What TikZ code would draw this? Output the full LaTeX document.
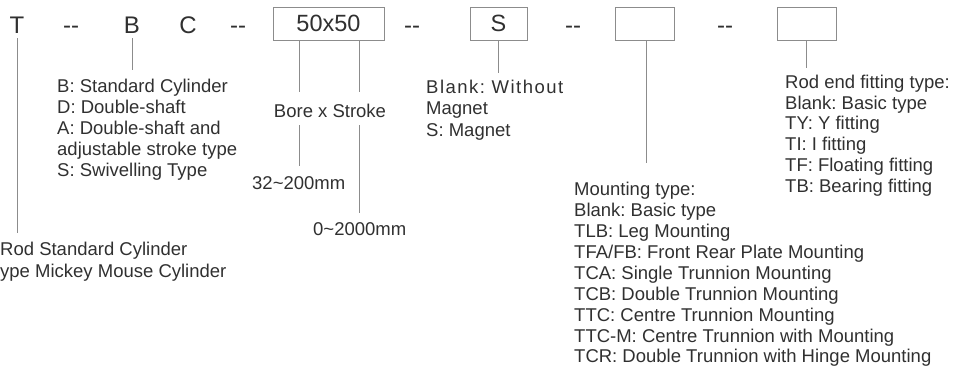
\documentclass[tikz,border=0pt]{standalone}
\usepackage{fontspec}
\setmainfont{Liberation Sans}
\definecolor{ink}{HTML}{303030}
\definecolor{wire}{HTML}{8C8C8C}
\newcommand{\firststrut}{\rule{0pt}{15pt}}
\newcommand{\dd}{-\kern0pt-}
\frenchspacing
\begin{document}
\begin{tikzpicture}[x=1pt,y=-1pt,
  big/.style={font=\fontsize{24}{27}\selectfont, text=ink, inner sep=0pt, anchor=base},
  small/.style={font=\fontsize{18.5}{21}\selectfont, text=ink, inner sep=0pt},
  list/.style={small, anchor=north west, align=left},
  codebox/.style={draw=wire, line width=0.9pt, minimum height=33pt, inner sep=0pt,
    font=\fontsize{23.5}{26}\selectfont, text=ink},
  conn/.style={draw=wire, line width=0.9pt}]
\useasboundingbox (0,0) rectangle (955,367);

% top code row
\node[big] (T) at (17,33) {T};
\node[big] (d1) at (71,33) {\dd};
\node[big] (B) at (132,33) {B};
\node[big] (C) at (188,33) {C};
\node[big] (d2) at (238,33) {\dd};
\node[codebox, minimum width=111pt] (bs) at (328.5,23.5) {50x50};
\node[big] (d3) at (412,33) {\dd};
\node[codebox, minimum width=57pt] (mag) at (498.5,23.5) {S};
\node[big] (d4) at (573,33) {\dd};
\node[codebox, minimum width=59pt] (mnt) at (645,24) {};
\node[big] (d5) at (725,33) {\dd};
\node[codebox, minimum width=59pt] (rod) at (806.5,24) {};

% descriptions
\node[list] (blist) at (57,77) {\firststrut B: Standard Cylinder\\D: Double-shaft\\A: Double-shaft and\\adjustable stroke type\\S: Swivelling Type};
\node[small, anchor=base] (bore) at (330,117) {Bore x Stroke};
\node[small, anchor=base west] (brange) at (252,189) {32\textasciitilde200mm};
\node[small, anchor=base west] (srange) at (313,235) {0\textasciitilde2000mm};
\node[list, font=\fontsize{18.5}{21.5}\selectfont] (maglist) at (426,78) {\firststrut{\addfontfeature{LetterSpace=8}Blank: Without}\\Magnet\\S: Magnet};
\node[list, font=\fontsize{18.5}{20.9}\selectfont] (mntlist) at (574,180.5) {\firststrut Mounting type:\\Blank: Basic type\\TLB: Leg Mounting\\TFA/FB: Front Rear Plate Mounting\\TCA: Single Trunnion Mounting\\TCB: Double Trunnion Mounting\\TTC: Centre Trunnion Mounting\\TTC-M: Centre Trunnion with Mounting\\TCR: Double Trunnion with Hinge Mounting};
\node[list, font=\fontsize{18.5}{20.8}\selectfont] (rodlist) at (785,73) {\firststrut Rod end fitting type:\\Blank: Basic type\\TY: Y fitting\\TI: I fitting\\TF: Floating fitting\\TB: Bearing fitting};
\node[list, font=\fontsize{18.5}{22}\selectfont] (tlist) at (0,240) {\firststrut Rod Standard Cylinder\\ype Mickey Mouse Cylinder};

% connectors
\coordinate (tEnd) at (17,233);
\coordinate (xL) at (299,0);
\coordinate (xR) at (359,0);
\coordinate (xM) at (646,0);
\draw[conn, shorten <=5pt] (T.south) -- (tEnd);
\draw[conn, shorten <=5pt, shorten >=7pt] (B.south) -- (B.south |- blist.north);
\draw[conn, shorten >=11pt] (bs.south -| xL) -- (bore.north -| xL);
\draw[conn, shorten >=11pt] (bs.south -| xR) -- (bore.north -| xR);
\draw[conn, shorten <=8pt, shorten >=10pt] (bore.south -| xL) -- (brange.north -| xL);
\draw[conn, shorten <=8pt, shorten >=9pt] (bore.south -| xR) -- (srange.north -| xR);
\draw[conn, shorten >=5pt] (mag.south) -- (mag.south |- maglist.north);
\draw[conn, shorten >=18pt] (mnt.south -| xM) -- (mntlist.north -| xM);
\draw[conn, shorten >=5pt] (rod.south) -- (rod.south |- rodlist.north);
\end{tikzpicture}
\end{document}
